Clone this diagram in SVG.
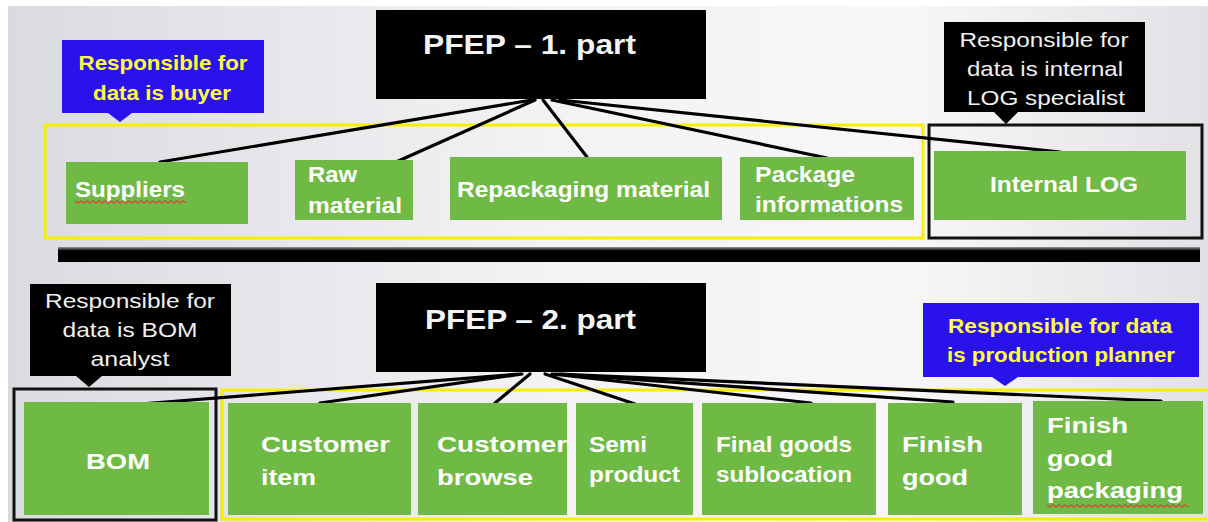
<svg xmlns="http://www.w3.org/2000/svg" width="1208" height="522" viewBox="0 0 1208 522">
<defs>
<linearGradient id="bg" x1="0" y1="0" x2="1" y2="0">
<stop offset="0" stop-color="#dadbe0"/>
<stop offset="0.45" stop-color="#f3f3f5"/>
<stop offset="0.75" stop-color="#f7f7f9"/>
<stop offset="1" stop-color="#e2e2e6"/>
</linearGradient>
<linearGradient id="bar" x1="0" y1="0" x2="0" y2="1">
<stop offset="0" stop-color="#9a9a9a"/>
<stop offset="0.25" stop-color="#000"/>
<stop offset="1" stop-color="#000"/>
</linearGradient>
</defs>
<style>
.g{fill:#6fba45}
.t{font-family:"Liberation Sans",Arial,sans-serif;font-weight:bold;fill:#fff;font-size:22px}
.title{font-family:"Liberation Sans",Arial,sans-serif;font-weight:bold;fill:#f4f4f4;font-size:28px}
.cw{font-family:"Liberation Sans",Arial,sans-serif;fill:#f0f0f0;font-size:21px;text-anchor:middle}
.cy{font-family:"Liberation Sans",Arial,sans-serif;fill:#ffff40;font-size:20px;font-weight:bold;text-anchor:middle}
.yb{fill:none;stroke:#f6f000;stroke-width:3}
.kb{fill:none;stroke:#111;stroke-width:3}
.c line{stroke:#000;stroke-width:3.2;stroke-linecap:round}
.wavy{fill:none;stroke:#d0503a;stroke-width:1.5}
</style>
<rect width="1208" height="522" fill="#fff"/>
<rect x="8" y="6" width="1200" height="256" fill="url(#bg)"/>
<rect x="8" y="262" width="1200" height="260" fill="url(#bg)"/>
<rect x="58" y="247" width="1142" height="15" fill="url(#bar)"/>

<g id="frames">
<rect class="yb" x="45" y="125" width="878" height="113"/>
<rect class="kb" x="929" y="125" width="273" height="113"/>
<rect class="kb" x="14" y="389" width="202" height="131"/>
<rect class="yb" x="222" y="390" width="990" height="129"/>
</g>

<g id="pfep1">
<rect x="376" y="10" width="330" height="89" fill="#000"/>
<text class="title" x="423" y="54" textLength="213" lengthAdjust="spacingAndGlyphs">PFEP – 1. part</text>
</g>
<g id="pfep2">
<rect x="376" y="283" width="330" height="89" fill="#000"/>
<text class="title" x="425" y="329" textLength="211" lengthAdjust="spacingAndGlyphs">PFEP – 2. part</text>
</g>

<g class="c" id="connectors">
<line x1="532" y1="100" x2="160" y2="162"/>
<line x1="535" y1="100" x2="396" y2="162"/>
<line x1="543" y1="100" x2="587" y2="157"/>
<line x1="552" y1="100" x2="827" y2="158"/>
<line x1="560" y1="100" x2="1060" y2="152"/>
<line x1="520" y1="374" x2="115" y2="406"/>
<line x1="522" y1="374" x2="320" y2="403"/>
<line x1="530" y1="374" x2="495" y2="403"/>
<line x1="545" y1="374" x2="635" y2="404"/>
<line x1="552" y1="374" x2="811" y2="403"/>
<line x1="556" y1="374" x2="953" y2="402"/>
<line x1="560" y1="374" x2="1161" y2="401"/>
</g>

<g id="callout-buyer">
<path d="M62 40H264V113H132L120 122L108 113H62Z" fill="#2a12ee"/>
<text class="cy" x="163" y="70" textLength="169" lengthAdjust="spacingAndGlyphs">Responsible for</text>
<text class="cy" x="162" y="100" textLength="138" lengthAdjust="spacingAndGlyphs">data is buyer</text>
</g>
<g id="callout-log">
<path d="M944 22H1145V112H1018L1006 124L994 112H944Z" fill="#000"/>
<text class="cw" x="1044" y="47" textLength="169" lengthAdjust="spacingAndGlyphs">Responsible for</text>
<text class="cw" x="1045" y="76" textLength="156" lengthAdjust="spacingAndGlyphs">data is internal</text>
<text class="cw" x="1046" y="105" textLength="158" lengthAdjust="spacingAndGlyphs">LOG specialist</text>
</g>
<g id="callout-bom">
<path d="M30 284H231V376H102L89 387L76 376H30Z" fill="#000"/>
<text class="cw" x="130" y="308" textLength="170" lengthAdjust="spacingAndGlyphs">Responsible for</text>
<text class="cw" x="130" y="337" textLength="135" lengthAdjust="spacingAndGlyphs">data is BOM</text>
<text class="cw" x="130" y="366" textLength="79" lengthAdjust="spacingAndGlyphs">analyst</text>
</g>
<g id="callout-planner">
<path d="M923 303H1199V377H1018L1005 386L992 377H923Z" fill="#2a12ee"/>
<text class="cy" x="1060" y="333" textLength="224" lengthAdjust="spacingAndGlyphs">Responsible for data</text>
<text class="cy" x="1061" y="362" textLength="228" lengthAdjust="spacingAndGlyphs">is production planner</text>
</g>

<g id="suppliers">
<rect class="g" x="66" y="162" width="182" height="62"/>
<text class="t" x="75" y="197" textLength="110" lengthAdjust="spacingAndGlyphs">Suppliers</text>
<path class="wavy" d="M75 201l3 2l3-2l3 2l3-2l3 2l3-2l3 2l3-2l3 2l3-2l3 2l3-2l3 2l3-2l3 2l3-2l3 2l3-2l3 2l3-2l3 2l3-2l3 2l3-2l3 2l3-2l3 2l3-2l3 2l3-2l3 2l3-2l3 2l3-2l3 2l3-2l3 2"/>
</g>
<g id="raw-material">
<rect class="g" x="295" y="160" width="118" height="60"/>
<text class="t" x="308" y="182" textLength="49" lengthAdjust="spacingAndGlyphs">Raw</text>
<text class="t" x="308" y="213" textLength="94" lengthAdjust="spacingAndGlyphs">material</text>
</g>
<g id="repackaging">
<rect class="g" x="450" y="157" width="272" height="63"/>
<text class="t" x="457" y="197" textLength="253" lengthAdjust="spacingAndGlyphs">Repackaging material</text>
</g>
<g id="package-info">
<rect class="g" x="740" y="157" width="174" height="63"/>
<text class="t" x="755" y="182" textLength="100" lengthAdjust="spacingAndGlyphs">Package</text>
<text class="t" x="755" y="212" textLength="148" lengthAdjust="spacingAndGlyphs">informations</text>
</g>
<g id="internal-log">
<rect class="g" x="934" y="151" width="252" height="69"/>
<text class="t" x="990" y="192" textLength="148" lengthAdjust="spacingAndGlyphs">Internal LOG</text>
</g>

<g id="bom">
<rect class="g" x="24" y="402" width="185" height="113"/>
<text class="t" x="86" y="469" textLength="64" lengthAdjust="spacingAndGlyphs">BOM</text>
</g>
<g id="customer-item">
<rect class="g" x="228" y="403" width="183" height="112"/>
<text class="t" x="261" y="452" textLength="129" lengthAdjust="spacingAndGlyphs">Customer</text>
<text class="t" x="261" y="485" textLength="55" lengthAdjust="spacingAndGlyphs">item</text>
</g>
<g id="customer-browse">
<rect class="g" x="418" y="403" width="149" height="112"/>
<text class="t" x="437" y="452" textLength="130" lengthAdjust="spacingAndGlyphs">Customer</text>
<text class="t" x="437" y="485" textLength="96" lengthAdjust="spacingAndGlyphs">browse</text>
</g>
<g id="semi-product">
<rect class="g" x="576" y="403" width="117" height="112"/>
<text class="t" x="589" y="452" textLength="58" lengthAdjust="spacingAndGlyphs">Semi</text>
<text class="t" x="589" y="482" textLength="91" lengthAdjust="spacingAndGlyphs">product</text>
</g>
<g id="final-goods">
<rect class="g" x="702" y="403" width="174" height="112"/>
<text class="t" x="716" y="452" textLength="136" lengthAdjust="spacingAndGlyphs">Final goods</text>
<text class="t" x="716" y="482" textLength="136" lengthAdjust="spacingAndGlyphs">sublocation</text>
</g>
<g id="finish-good">
<rect class="g" x="888" y="403" width="134" height="112"/>
<text class="t" x="902" y="452" textLength="81" lengthAdjust="spacingAndGlyphs">Finish</text>
<text class="t" x="902" y="485" textLength="66" lengthAdjust="spacingAndGlyphs">good</text>
</g>
<g id="finish-good-packaging">
<rect class="g" x="1033" y="401" width="170" height="113"/>
<text class="t" x="1047" y="433" textLength="81" lengthAdjust="spacingAndGlyphs">Finish</text>
<text class="t" x="1047" y="466" textLength="66" lengthAdjust="spacingAndGlyphs">good</text>
<text class="t" x="1047" y="498" textLength="136" lengthAdjust="spacingAndGlyphs">packaging</text>
<path class="wavy" d="M1047 505l3 2l3-2l3 2l3-2l3 2l3-2l3 2l3-2l3 2l3-2l3 2l3-2l3 2l3-2l3 2l3-2l3 2l3-2l3 2l3-2l3 2l3-2l3 2l3-2l3 2l3-2l3 2l3-2l3 2l3-2l3 2l3-2l3 2l3-2l3 2l3-2l3 2l3-2l3 2l3-2l3 2l3-2l3 2l3-2l3 2l3-2l3 2"/>
</g>
</svg>
